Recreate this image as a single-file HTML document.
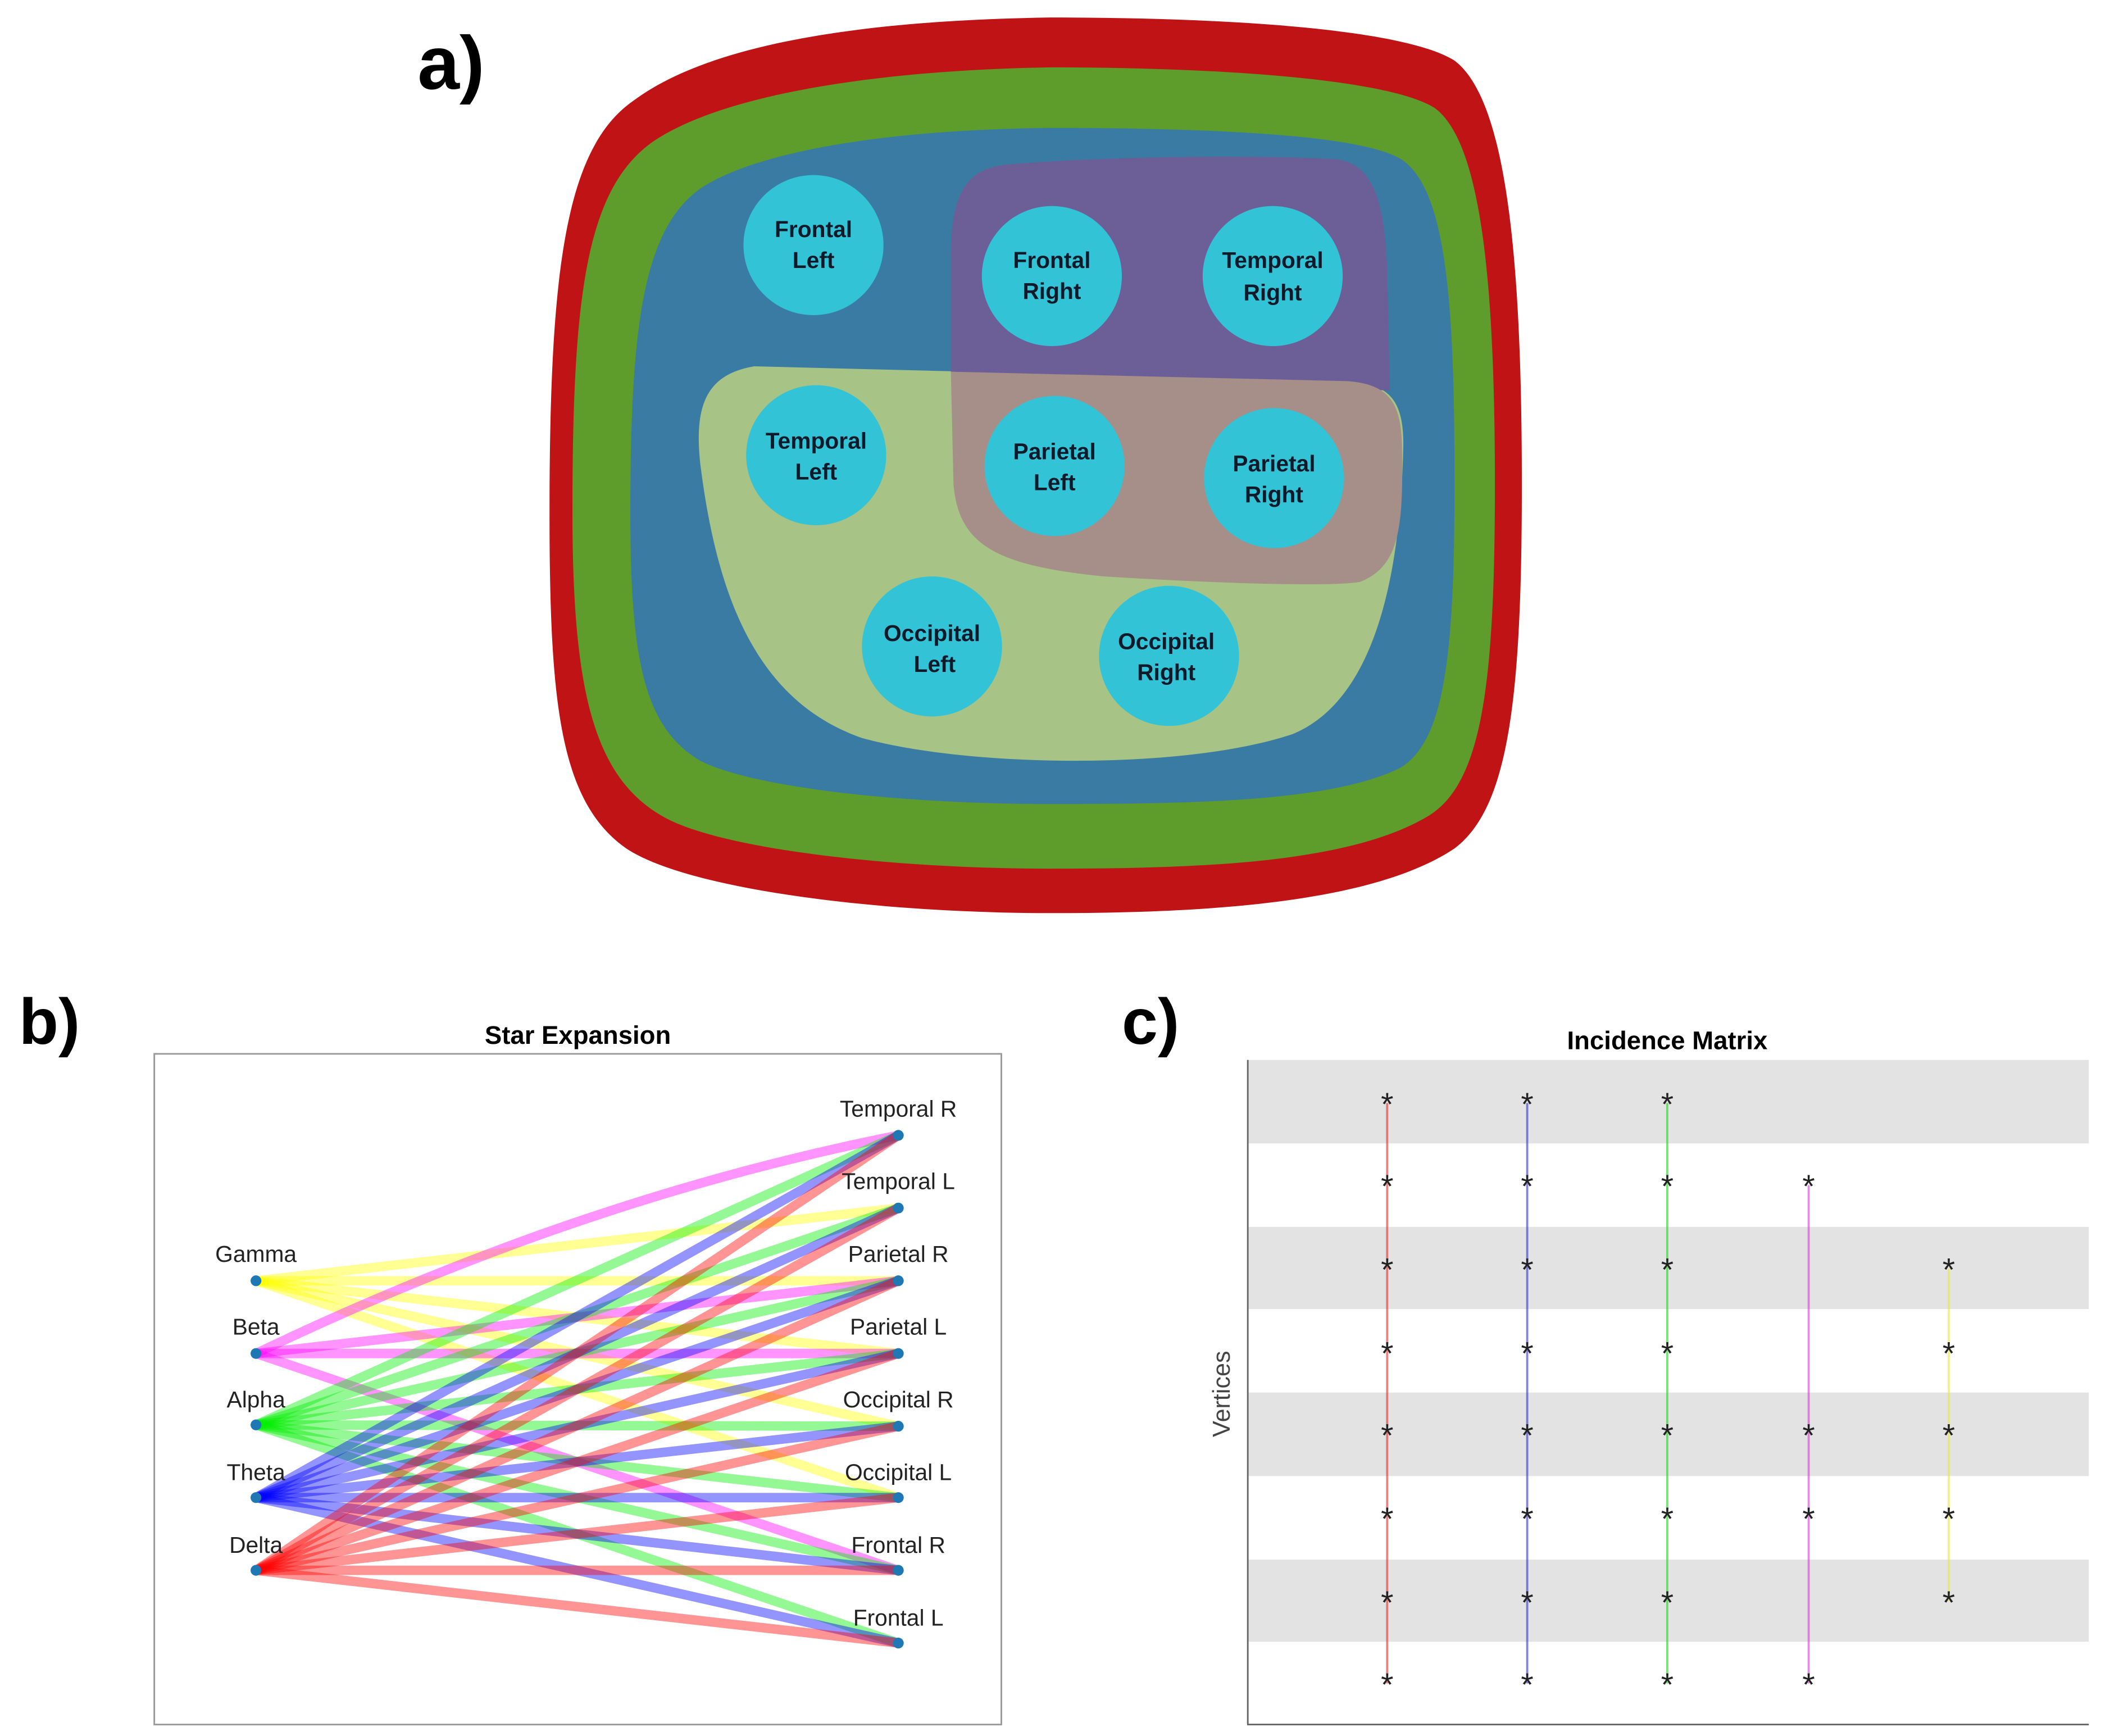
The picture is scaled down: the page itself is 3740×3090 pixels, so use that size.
<!DOCTYPE html>
<html><head><meta charset="utf-8"><style>
html,body{margin:0;padding:0;background:#fff;}
svg{display:block;}
text{font-family:"Liberation Sans",Arial,sans-serif;}
</style></head><body>
<svg width="3740" height="3090" viewBox="0 0 1560 1289" xmlns="http://www.w3.org/2000/svg">
<rect width="1560" height="1289" fill="#fff"/>
<!-- Panel a -->
<text x="310" y="66" font-size="56" font-weight="bold">a)</text>
<path d="M408,380 C408,200 420,110 470,75 C530,30 650,15 780,13 C900,13 1040,20 1080,45 C1120,75 1130,200 1130,360 C1130,520 1120,600 1080,630 C1020,670 900,678 780,678 C650,678 510,660 465,630 C415,595 408,520 408,380 Z" fill="#c01315"/>
<path d="M425,380 C425,220 435,140 485,105 C540,68 660,52 780,50 C900,50 1030,58 1065,80 C1100,105 1110,210 1110,360 C1110,510 1100,580 1062,605 C1005,640 900,645 780,645 C660,645 530,630 490,605 C440,575 425,510 425,380 Z" fill="#5e9c2c"/>
<path d="M468,380 C468,240 478,170 520,140 C565,110 670,96 780,95 C900,95 1010,100 1040,118 C1075,140 1080,230 1080,360 C1080,490 1072,550 1040,570 C990,595 890,597 780,597 C670,597 560,585 520,565 C478,540 468,490 468,380 Z" fill="#3a7ba4"/>
<path d="M560,272 C525,278 515,300 520,345 C532,440 560,520 640,548 C720,570 880,572 960,545 C1020,520 1040,430 1042,330 C1042,295 1030,285 1000,283 Z" fill="#a7c385"/>
<path d="M750,122 C820,116 930,115 990,118 C1020,120 1028,150 1030,200 L1032,290 L706,276 L706,190 C706,140 720,124 750,122 Z" fill="#6c5f98"/>
<path d="M706,276 L1000,283 C1032,285 1040,300 1041,330 C1042,390 1040,420 1010,432 C990,436 900,433 820,428 C740,420 712,405 708,360 Z" fill="#a68e89"/>
<g fill="#33c3d6">
<circle cx="604" cy="182" r="52"/><circle cx="781" cy="205" r="52"/><circle cx="945" cy="205" r="52"/>
<circle cx="606" cy="338" r="52"/><circle cx="783" cy="346" r="52"/><circle cx="946" cy="355" r="52"/>
<circle cx="692" cy="480" r="52"/><circle cx="868" cy="487" r="52"/>
</g>
<g font-size="17" font-weight="bold" fill="#0d1a2a" text-anchor="middle">
<text x="604" y="176">Frontal</text><text x="604" y="199">Left</text>
<text x="781" y="199">Frontal</text><text x="781" y="222">Right</text>
<text x="945" y="199">Temporal</text><text x="945" y="223">Right</text>
<text x="606" y="333">Temporal</text><text x="606" y="356">Left</text>
<text x="783" y="341">Parietal</text><text x="783" y="364">Left</text>
<text x="946" y="350">Parietal</text><text x="946" y="373">Right</text>
<text x="692" y="476">Occipital</text><text x="694" y="499">Left</text>
<text x="866" y="482">Occipital</text><text x="866" y="505">Right</text>
</g>
<!-- Panel b -->
<text x="14" y="775" font-size="48" font-weight="bold">b)</text>
<text x="429" y="775" font-size="19" font-weight="bold" text-anchor="middle">Star Expansion</text>
<rect x="114.5" y="782.5" width="629" height="498" fill="#fff" stroke="#999" stroke-width="1.2"/>
<g stroke-width="7" stroke-opacity="0.42" fill="none" stroke-linecap="butt">
<g stroke="#ffff00">
<line x1="190" y1="951" x2="667" y2="897"/><line x1="190" y1="951" x2="667" y2="951"/><line x1="190" y1="951" x2="667" y2="1005"/><line x1="190" y1="951" x2="667" y2="1059"/><line x1="190" y1="951" x2="667" y2="1112"/>
</g>
<g stroke="#ff00ff">
<path d="M190,1005 Q430,890 667,843"/><line x1="190" y1="1005" x2="667" y2="951"/><line x1="190" y1="1005" x2="667" y2="1005"/><line x1="190" y1="1005" x2="667" y2="1166"/>
</g>
<g stroke="#00ee00">
<line x1="190" y1="1058" x2="667" y2="843"/><line x1="190" y1="1058" x2="667" y2="897"/><line x1="190" y1="1058" x2="667" y2="951"/><line x1="190" y1="1058" x2="667" y2="1005"/><line x1="190" y1="1058" x2="667" y2="1059"/><line x1="190" y1="1058" x2="667" y2="1112"/><line x1="190" y1="1058" x2="667" y2="1166"/><line x1="190" y1="1058" x2="667" y2="1220"/>
</g>
<g stroke="#0000ff">
<line x1="190" y1="1112" x2="667" y2="843"/><line x1="190" y1="1112" x2="667" y2="897"/><line x1="190" y1="1112" x2="667" y2="951"/><line x1="190" y1="1112" x2="667" y2="1005"/><line x1="190" y1="1112" x2="667" y2="1059"/><line x1="190" y1="1112" x2="667" y2="1112"/><line x1="190" y1="1112" x2="667" y2="1166"/><line x1="190" y1="1112" x2="667" y2="1220"/>
</g>
<g stroke="#ff0000">
<line x1="190" y1="1166" x2="667" y2="843"/><line x1="190" y1="1166" x2="667" y2="897"/><line x1="190" y1="1166" x2="667" y2="951"/><line x1="190" y1="1166" x2="667" y2="1005"/><line x1="190" y1="1166" x2="667" y2="1059"/><line x1="190" y1="1166" x2="667" y2="1112"/><line x1="190" y1="1166" x2="667" y2="1166"/><line x1="190" y1="1166" x2="667" y2="1220"/>
</g>
</g>
<g fill="#1f77b4">
<circle cx="190" cy="951" r="4"/><circle cx="190" cy="1005" r="4"/><circle cx="190" cy="1058" r="4"/><circle cx="190" cy="1112" r="4"/><circle cx="190" cy="1166" r="4"/>
<circle cx="667" cy="843" r="4"/><circle cx="667" cy="897" r="4"/><circle cx="667" cy="951" r="4"/><circle cx="667" cy="1005" r="4"/><circle cx="667" cy="1059" r="4"/><circle cx="667" cy="1112" r="4"/><circle cx="667" cy="1166" r="4"/><circle cx="667" cy="1220" r="4"/>
</g>
<g font-size="17" fill="#222" text-anchor="middle">
<text x="190" y="937">Gamma</text><text x="190" y="991">Beta</text><text x="190" y="1045">Alpha</text><text x="190" y="1099">Theta</text><text x="190" y="1153">Delta</text>
<text x="667" y="829">Temporal R</text><text x="667" y="883">Temporal L</text><text x="667" y="937">Parietal R</text><text x="667" y="991">Parietal L</text>
<text x="667" y="1045">Occipital R</text><text x="667" y="1099">Occipital L</text><text x="667" y="1153">Frontal R</text><text x="667" y="1207">Frontal L</text>
</g>
<!-- Panel c -->
<text x="833" y="775" font-size="48" font-weight="bold">c)</text>
<text x="1238" y="779" font-size="19" font-weight="bold" text-anchor="middle">Incidence Matrix</text>
<g fill="#e3e3e3">
<rect x="926" y="787" width="625" height="62"/><rect x="926" y="911" width="625" height="61"/><rect x="926" y="1034" width="625" height="62"/><rect x="926" y="1158" width="625" height="61"/>
</g>
<line x1="926.5" y1="787" x2="926.5" y2="1280" stroke="#666" stroke-width="1.2"/>
<line x1="926" y1="1280.5" x2="1551" y2="1280.5" stroke="#666" stroke-width="1.2"/>
<text transform="translate(913,1035) rotate(-90)" font-size="18" fill="#444" text-anchor="middle">Vertices</text>
<g stroke-width="1.6" stroke-opacity="0.6">
<line x1="1030" y1="819" x2="1030" y2="1250" stroke="#e03030"/>
<line x1="1134" y1="819" x2="1134" y2="1250" stroke="#3030d0"/>
<line x1="1238" y1="819" x2="1238" y2="1250" stroke="#20d020"/>
<line x1="1343" y1="880" x2="1343" y2="1250" stroke="#d040d0"/>
<line x1="1447" y1="942" x2="1447" y2="1189" stroke="#e8e840"/>
</g>
<g font-size="24" fill="#222" text-anchor="middle">
<text x="1030" y="828">*</text><text x="1030" y="889">*</text><text x="1030" y="951">*</text><text x="1030" y="1013">*</text><text x="1030" y="1074">*</text><text x="1030" y="1136">*</text><text x="1030" y="1198">*</text><text x="1030" y="1259">*</text>
<text x="1134" y="828">*</text><text x="1134" y="889">*</text><text x="1134" y="951">*</text><text x="1134" y="1013">*</text><text x="1134" y="1074">*</text><text x="1134" y="1136">*</text><text x="1134" y="1198">*</text><text x="1134" y="1259">*</text>
<text x="1238" y="828">*</text><text x="1238" y="889">*</text><text x="1238" y="951">*</text><text x="1238" y="1013">*</text><text x="1238" y="1074">*</text><text x="1238" y="1136">*</text><text x="1238" y="1198">*</text><text x="1238" y="1259">*</text>
<text x="1343" y="889">*</text><text x="1343" y="1074">*</text><text x="1343" y="1136">*</text><text x="1343" y="1259">*</text>
<text x="1447" y="951">*</text><text x="1447" y="1013">*</text><text x="1447" y="1074">*</text><text x="1447" y="1136">*</text><text x="1447" y="1198">*</text>
</g>
</svg>
</body></html>
